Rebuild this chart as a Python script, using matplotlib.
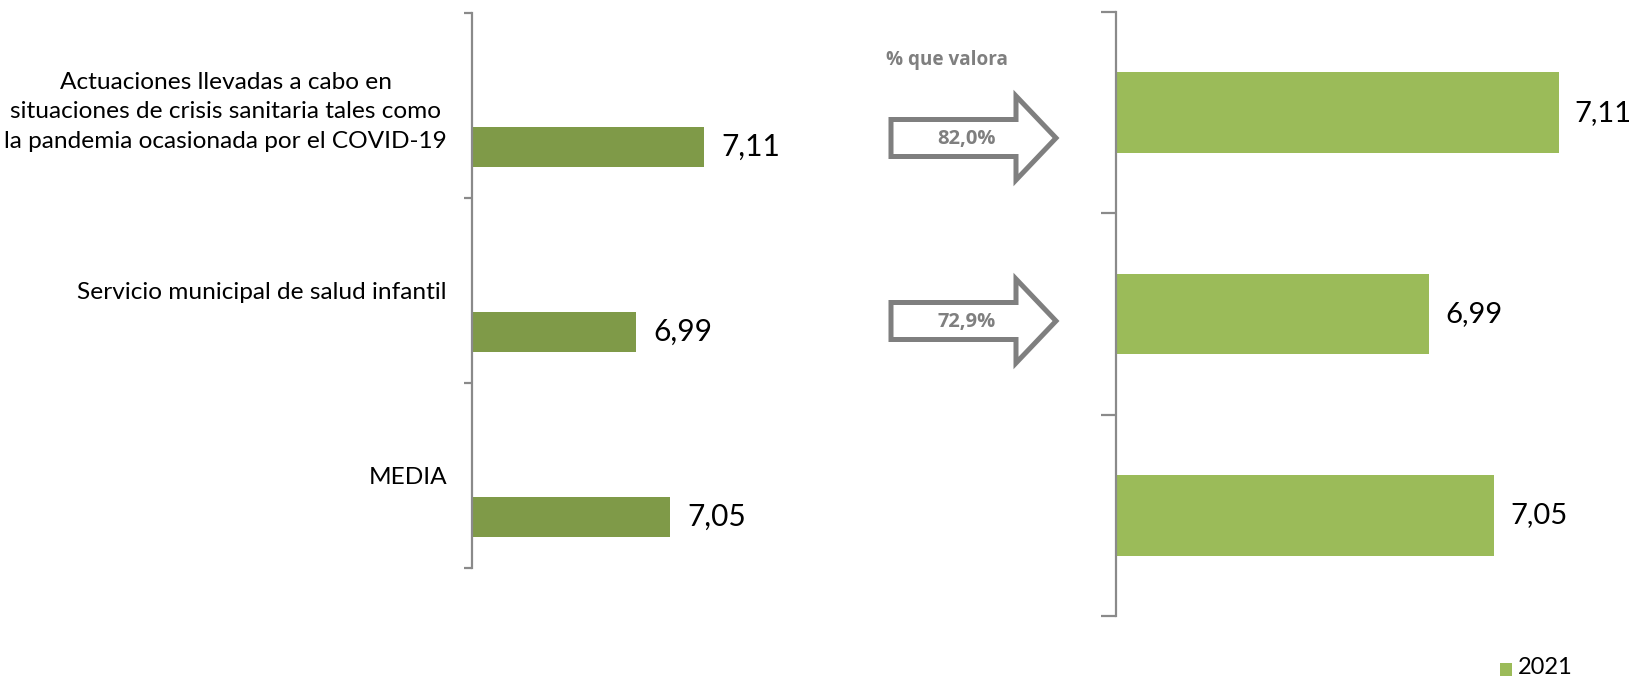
import matplotlib
matplotlib.use("Agg")
import matplotlib.pyplot as plt
from matplotlib.patches import Polygon, Rectangle
from matplotlib.ticker import FixedLocator

plt.rcParams['font.family'] = ['Lato', 'DejaVu Sans']
NEGRITA = ['Open Sans', 'DejaVu Sans']

# Data
categorias = [
    "Actuaciones llevadas a cabo en\nsituaciones de crisis sanitaria tales como\nla pandemia ocasionada por el COVID-19",
    "Servicio municipal de salud infantil",
    "MEDIA",
]
valores_2021 = [7.11, 6.99, 7.05]
pct_valora = [82.0, 72.9]
serie = "2021"

X_MIN = 6.7

VERDE_OSCURO = "#7F9A48"
VERDE = "#9BBB59"
GRIS_EJE = "#8A8A8A"
GRIS_TXT = "#7F7F7F"

W, H = 1634, 680
DPI = 100
fig = plt.figure(figsize=(W / DPI, H / DPI), dpi=DPI)


def px_box(x0, y0, x1, y1):
    """Pixel box (top-left origin) -> figure-fraction rect."""
    return [x0 / W, 1 - y1 / H, (x1 - x0) / W, (y1 - y0) / H]


def coma(v, nd=2):
    return f"{v:.{nd}f}".replace(".", ",")


def estilo_eje(ax, tick_len):
    for s in ("top", "right", "bottom"):
        ax.spines[s].set_visible(False)
    ax.spines["left"].set_color(GRIS_EJE)
    ax.spines["left"].set_linewidth(1.6)
    ax.set_xticks([])
    ax.yaxis.set_minor_locator(FixedLocator([-0.5, 0.5, 1.5, 2.5]))
    ax.tick_params(axis="y", which="minor", length=tick_len, width=1.6,
                   color=GRIS_EJE, direction="out")
    ax.set_ylim(2.5, -0.5)


pos = list(range(len(categorias)))

# Left panel: averages with category labels
axl = fig.add_axes(px_box(472, 13, 755.5, 568))
estilo_eje(axl, 5.8)
desplaz = 0.224
axl.barh([p + desplaz for p in pos], valores_2021, height=0.216, color=VERDE_OSCURO)
axl.set_xlim(X_MIN, 7.2)
axl.set_yticks(pos, labels=categorias)
axl.tick_params(axis="y", which="major", length=0, pad=18, labelsize=17.6)
for lab in axl.get_yticklabels():
    lab.set_multialignment("center")
    lab.set_linespacing(1.5)
for p, v in zip(pos, valores_2021):
    axl.annotate(coma(v), xy=(v, p + desplaz), xytext=(12, 0),
                 textcoords="offset points", va="center", ha="left",
                 fontsize=21.5, color="black")

# Right panel: 2021 series
axr = fig.add_axes(px_box(1116, 12, 1602, 616))
estilo_eje(axr, 10.8)
axr.barh(pos, valores_2021, height=0.4, color=VERDE)
axr.set_xlim(X_MIN, 7.15)
axr.set_yticks([])
for p, v in zip(pos, valores_2021):
    axr.annotate(coma(v), xy=(v, p), xytext=(11.5, 0),
                 textcoords="offset points", va="center", ha="left",
                 fontsize=21, color="black")

# "% que valora" arrows
fig.text(947 / W, 1 - 60 / H, "% que valora", ha="center", va="center",
         fontsize=13.6, fontweight="bold", color=GRIS_TXT, family=NEGRITA)


def flecha(yc, texto):
    x0, xh, xt = 891, 1016, 1056
    bh, hh = 18.5, 42
    pts = [(x0, yc - bh), (xh, yc - bh), (xh, yc - hh), (xt, yc),
           (xh, yc + hh), (xh, yc + bh), (x0, yc + bh)]
    pts = [(x / W, 1 - y / H) for x, y in pts]
    fig.add_artist(Polygon(pts, closed=True, transform=fig.transFigure,
                           facecolor="white", edgecolor=GRIS_TXT,
                           linewidth=3.6, joinstyle="miter"))
    fig.text(967 / W, 1 - (yc + 1) / H, texto, ha="center", va="center",
             fontsize=14.5, fontweight="bold", color=GRIS_TXT, family=NEGRITA)


for yc, p in zip([138, 321], pct_valora):
    flecha(yc, coma(p, 1) + "%")

# Legend
fig.add_artist(Rectangle((1500 / W, 1 - 676 / H), 12 / W, 13 / H,
                         transform=fig.transFigure, facecolor=VERDE,
                         edgecolor="none"))
fig.text(1518 / W, 1 - 668 / H, serie, ha="left", va="center",
         fontsize=17, color="black")

fig.savefig("out.png", dpi=DPI)
